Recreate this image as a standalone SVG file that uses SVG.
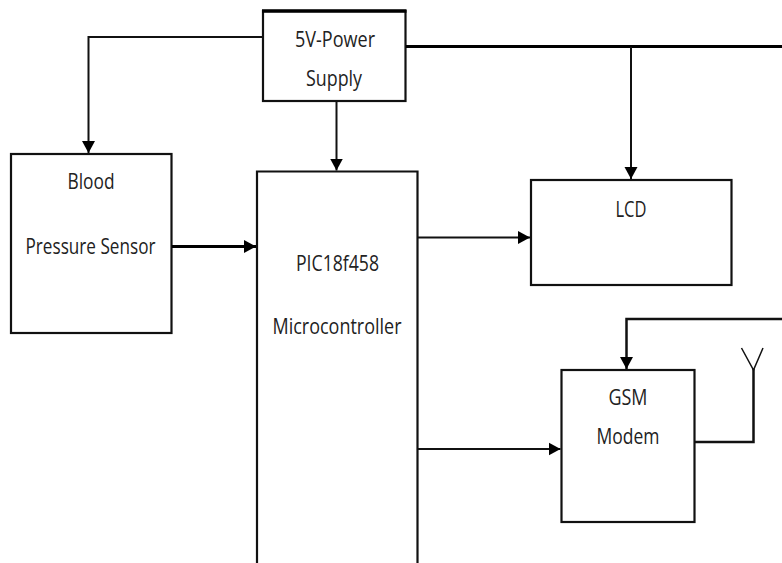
<svg xmlns="http://www.w3.org/2000/svg" width="782" height="563" viewBox="0 0 782 563">
<style>
.box{fill:#fff;stroke:#111;stroke-width:2.2}
.line{fill:none;stroke:#111;stroke-width:2}
.thick{fill:none;stroke:#000;stroke-width:3}
.lbl{font-family:"Open Sans","Liberation Sans",sans-serif;font-size:21px;fill:#222;text-anchor:middle}
</style>
<defs>
<marker id="ah" markerUnits="userSpaceOnUse" markerWidth="13" markerHeight="14" refX="12" refY="7" orient="auto">
<path d="M0 0.500L12 7L0 13.500Z" fill="#000"/>
</marker>
</defs>
<rect width="782" height="563" fill="#fff"/>
<g id="power">
<rect class="box" x="263" y="11" width="142.5" height="90"/>
<path d="M262 11H406.500" fill="none" stroke="#000" stroke-width="3.500"/>
<text class="lbl" x="335" y="47" textLength="80" lengthAdjust="spacingAndGlyphs">5V-Power</text>
<text class="lbl" x="334" y="86" textLength="56" lengthAdjust="spacingAndGlyphs">Supply</text>
</g>
<g id="sensor">
<rect class="box" x="11" y="154" width="160.500" height="179"/>
<text class="lbl" x="91" y="189" textLength="47" lengthAdjust="spacingAndGlyphs">Blood</text>
<text class="lbl" x="90.500" y="254" textLength="130" lengthAdjust="spacingAndGlyphs">Pressure Sensor</text>
</g>
<g id="mcu">
<path class="box" d="M257 564V171.500H417.500V564"/>
<text class="lbl" x="337.500" y="271" textLength="83" lengthAdjust="spacingAndGlyphs">PIC18f458</text>
<text class="lbl" x="337" y="334" textLength="129" lengthAdjust="spacingAndGlyphs">Microcontroller</text>
</g>
<g id="lcd">
<rect class="box" x="531" y="180" width="200.500" height="105"/>
<text class="lbl" x="631" y="217" textLength="31" lengthAdjust="spacingAndGlyphs">LCD</text>
</g>
<g id="gsm">
<rect class="box" x="561.500" y="370" width="133" height="152"/>
<text class="lbl" x="628" y="405" textLength="39" lengthAdjust="spacingAndGlyphs">GSM</text>
<text class="lbl" x="628" y="444" textLength="63" lengthAdjust="spacingAndGlyphs">Modem</text>
</g>
<g id="connectors">
<path class="line" d="M262 37H88.500V153" marker-end="url(#ah)"/>
<path class="line" d="M336.500 102V170.500" marker-end="url(#ah)"/>
<path class="thick" d="M172 246.500H256" marker-end="url(#ah)"/>
<path class="thick" d="M406 46.500H782"/>
<path class="line" d="M631 47V179" marker-end="url(#ah)"/>
<path class="line" d="M418 237.500H530" marker-end="url(#ah)"/>
<path class="line" d="M418 449H560.500" marker-end="url(#ah)"/>
<path class="line" d="M782 319H626.500V369" style="stroke-width:2.500" marker-end="url(#ah)"/>
<path class="line" d="M695 442H753.500V369" style="stroke-width:2.500"/>
<path class="line" d="M741.500 348L753.500 370L763 348" style="stroke-width:1.500"/>
</g>
</svg>
